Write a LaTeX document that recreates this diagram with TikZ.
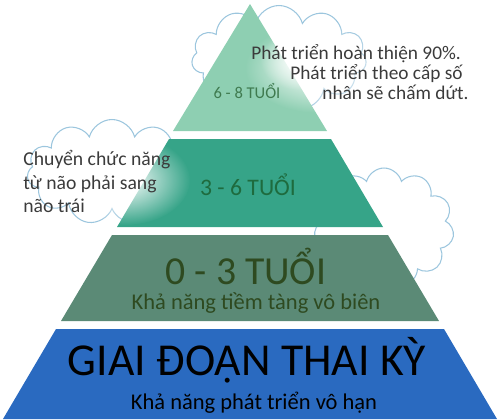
\documentclass[tikz,border=0pt]{standalone}
\usepackage{fontspec}
\setmainfont{Carlito}
\usetikzlibrary{shapes.symbols,fadings}

\definecolor{mint}{HTML}{8ECFB2}
\definecolor{teal}{HTML}{36A488}
\definecolor{sage}{HTML}{5B8A76}
\definecolor{royal}{HTML}{2A6AC0}
\definecolor{cloudline}{HTML}{9CC6DE}
\definecolor{notegray}{HTML}{3B3B3B}
\definecolor{greenA}{HTML}{3F7A4F}
\definecolor{greenB}{HTML}{1E6B3E}
\definecolor{olive}{HTML}{2E4A20}

\tikzfading[name=glowfade, inner color=transparent!0, outer color=transparent!100]

\tikzset{
  cloudy/.style={cloud, cloud puffs=11, aspect=1.6, draw=cloudline, line width=0.6pt, fill=white},
  agebig/.style={inner sep=0pt, anchor=base, font=\fontsize{22.6}{22.6}\selectfont},
  agesub/.style={inner sep=0pt, anchor=base, font=\fontsize{12.8}{12.8}\selectfont},
  note/.style={inner sep=0pt, anchor=base west, text=notegray, font=\fontsize{11}{12}\selectfont},
}

\begin{document}
\begin{tikzpicture}[x=0.02cm, y=-0.02cm]
    \useasboundingbox (0,0) rectangle (500,419);

    % clouds behind the pyramid
    \node[cloudy, minimum width=3.5cm, minimum height=2.1cm] (cloudtop) at (279,58) {};
    \node[cloudy, minimum width=3.4cm, minimum height=2.1cm] (cloudleft) at (112,172) {};
    \node[cloudy, minimum width=2.8cm, minimum height=2.4cm] (cloudright) at (384,228) {};

    % pyramid
    \fill[mint] (250,4) -- (327,131) -- (173,131) -- cycle;
    \fill[teal] (169,139) -- (331,139) -- (383,227) -- (117,227) -- cycle;
    \fill[sage] (112,235) -- (388,235) -- (439,321) -- (61,321) -- cycle;
    \fill[royal] (56,329) -- (444,329) -- (497,419) -- (3,419) -- cycle;

    % white glow behind the notes
    \fill[white, path fading=glowfade] (320,68) ellipse (75 and 45);
    \fill[white, path fading=glowfade] (300,60) ellipse (40 and 30);
    \fill[white, path fading=glowfade] (125,180) ellipse (65 and 45);

    \node[agebig, text=greenA, font=\fontsize{9.4}{9.4}\selectfont] (age68) at (247,98) {6 - 8 TUỔI};
    \node[agebig, text=greenB, font=\fontsize{13.5}{13.5}\selectfont] (age36) at (248,195) {3 - 6 TUỔI};
    \node[agebig, text=olive] (age03) at (246,284) {0 - 3 TUỔI};
    \node[agesub, text=olive] (sub03) at (256,309) {Khả năng tiềm tàng vô biên};
    \node[agebig, text=black, font=\fontsize{26}{26}\selectfont] (fetal) at (247,375) {GIAI ĐOẠN THAI KỲ};
    \node[agesub, text=black] (subfetal) at (254,409) {Khả năng phát triển vô hạn};

    % notes
    \node[note] (notea) at (251,59) {Phát triển hoàn thiện 90\%.};
    \node[note] (noteb) at (290,79) {Phát triển theo cấp số};
    \node[note] (notec) at (322,99) {nhân sẽ chấm dứt.};
    \node[note, font=\fontsize{11.2}{13.3}\selectfont] (noteleft1) at (23,165) {Chuyển chức năng};
    \node[note, font=\fontsize{11.2}{13.3}\selectfont] (noteleft2) at (23,189) {từ não phải sang};
    \node[note, font=\fontsize{11.2}{13.3}\selectfont] (noteleft3) at (23,212) {não trái};
\end{tikzpicture}
\end{document}
